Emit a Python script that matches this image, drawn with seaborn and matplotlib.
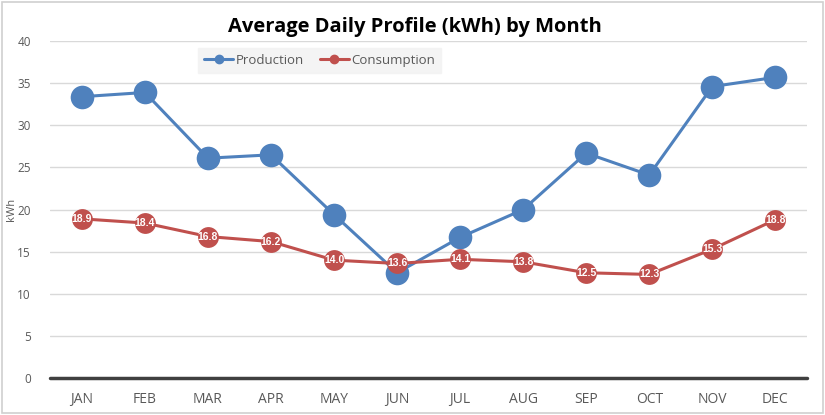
import numpy as np
import pandas as pd
import seaborn as sns
import matplotlib.pyplot as plt
from matplotlib.lines import Line2D
from matplotlib.patches import Rectangle

months = ['JAN', 'FEB', 'MAR', 'APR', 'MAY', 'JUN', 'JUL', 'AUG', 'SEP', 'OCT', 'NOV', 'DEC']
production = [33.4, 33.9, 26.1, 26.5, 19.4, 12.5, 16.7, 20.0, 26.7, 24.1, 34.6, 35.7]
consumption = [18.9, 18.4, 16.8, 16.2, 14.0, 13.6, 14.1, 13.8, 12.5, 12.3, 15.3, 18.8]

blue = '#4f81bd'
red = '#c0504d'
grey_txt = '#595959'

sns.set_style('white')
plt.rcParams['font.family'] = ['Open Sans', 'DejaVu Sans']

fig = plt.figure(figsize=(8.25, 4.15), dpi=100)
ax = fig.add_axes([0.061, 0.089, 0.917, 0.812])

df = pd.DataFrame({'month': months, 'Production': production, 'Consumption': consumption})

sns.lineplot(data=df, x='month', y='Production', ax=ax, color=blue, linewidth=2.2,
             marker='o', markersize=17, markeredgewidth=0, sort=False)
sns.lineplot(data=df, x='month', y='Consumption', ax=ax, color=red, linewidth=2.2,
             marker='o', markersize=15, markeredgewidth=0, sort=False)

for i, v in enumerate(consumption):
    ax.text(i, v, f'{v:.1f}', ha='center', va='center', color='white',
            fontsize=7.5, fontweight='bold', fontstretch='condensed', zorder=5,
            family=['Liberation Sans Narrow', 'Liberation Sans'])

ax.set_xlim(-0.5, 11.5)
ax.set_ylim(0, 40)
ax.set_yticks(np.arange(0, 41, 5))
ax.yaxis.grid(True, color='#d9d9d9', linewidth=1)
ax.set_axisbelow(True)
ax.axhline(0, color='#404040', linewidth=2.5, zorder=1, clip_on=False)
for s in ax.spines.values():
    s.set_visible(False)

ax.tick_params(axis='x', length=0, labelsize=10, labelcolor=grey_txt, pad=10)
ax.tick_params(axis='y', length=0, labelsize=8.5, labelcolor=grey_txt, pad=14)
ax.set_xlabel('')
ax.set_ylabel('kWh', fontsize=8, color=grey_txt, labelpad=-2)
ax.yaxis.set_label_coords(-0.044, 0.5)

handles = [Line2D([0], [0], color=blue, lw=2.2, marker='o', markersize=6),
           Line2D([0], [0], color=red, lw=2.2, marker='o', markersize=6)]
leg = ax.legend(handles, ['Production', 'Consumption'], loc='center',
                bbox_to_anchor=(0.356, 0.943), ncol=2, frameon=True, fontsize=9.5,
                handlelength=2.2, handletextpad=0.2, columnspacing=1.2,
                borderpad=0.45, fancybox=False)
leg.get_frame().set_facecolor('#f2f2f2')
leg.get_frame().set_edgecolor('#f2f2f2')
for t in leg.get_texts():
    t.set_color(grey_txt)

fig.text(0.503, 0.935, 'Average Daily Profile (kWh) by Month', ha='center', va='center',
         fontsize=14.5, fontweight='bold', color='black')

fig.patches.append(Rectangle((0.003, 0.005), 0.994, 0.99, transform=fig.transFigure,
                             fill=False, edgecolor='#d0d0d0', linewidth=1.2))

fig.savefig('out.png', dpi=100)
